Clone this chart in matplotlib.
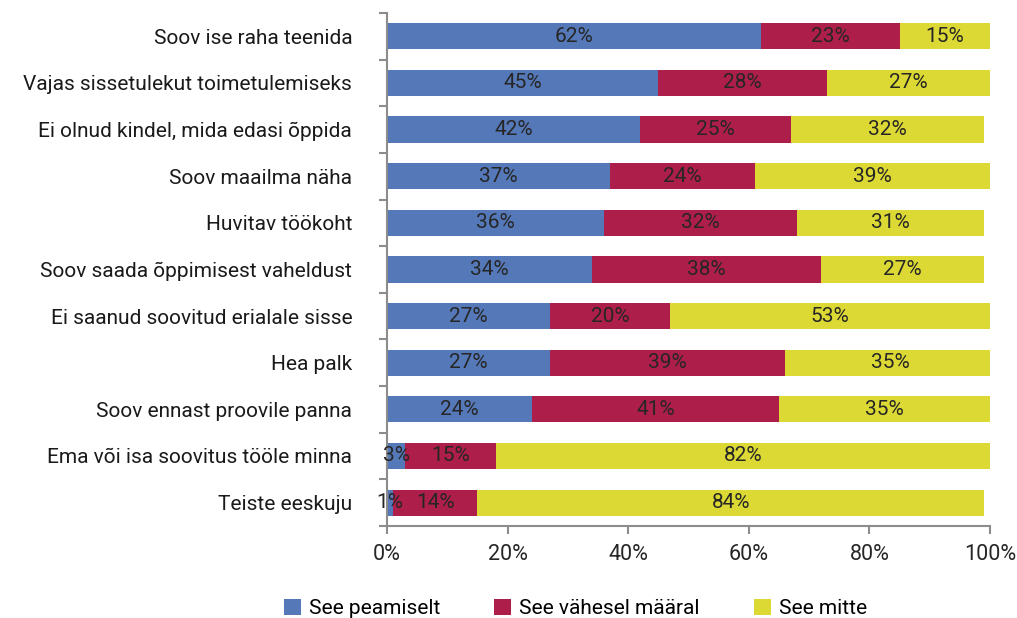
import matplotlib.pyplot as plt
import numpy as np

plt.rcParams['font.family'] = ['Roboto', 'DejaVu Sans']

reasons = ['Soov ise raha teenida', 'Vajas sissetulekut toimetulemiseks',
           'Ei olnud kindel, mida edasi õppida', 'Soov maailma näha',
           'Huvitav töökoht', 'Soov saada õppimisest vaheldust',
           'Ei saanud soovitud erialale sisse', 'Hea palk',
           'Soov ennast proovile panna', 'Ema või isa soovitus tööle minna',
           'Teiste eeskuju']
peamiselt = [62, 45, 42, 37, 36, 34, 27, 27, 24, 3, 1]
vahesel = [23, 28, 25, 24, 32, 38, 20, 39, 41, 15, 14]
mitte = [15, 27, 32, 39, 31, 27, 53, 35, 35, 82, 84]

series = [('See peamiselt', peamiselt, '#5578b8'),
          ('See vähesel määral', vahesel, '#ad1e4a'),
          ('See mitte', mitte, '#dcd834')]

fig = plt.figure(figsize=(10.17, 6.18), dpi=100)
ax = fig.add_axes([0.3805, 0.149, 0.593, 0.830])

y = np.arange(len(reasons))
left = np.zeros(len(reasons))
for name, vals, col in series:
    vals = np.array(vals, dtype=float)
    ax.barh(y, vals, left=left, height=0.56, color=col, label=name)
    for yi, l, v in zip(y, left, vals):
        ax.text(l + v / 2, yi, f'{int(v)}%', ha='center', va='center',
                fontsize=15, color='#262626')
    left += vals

ax.set_xlim(0, 100)
ax.set_ylim(len(reasons) - 0.5, -0.5)
ax.set_xticks(np.arange(0, 101, 20))
ax.set_xticklabels([f'{v}%' for v in range(0, 101, 20)], fontsize=15.5, color='#262626')

# category labels without ticks, tick marks between rows
ax.set_yticks(y)
ax.set_yticklabels(reasons, fontsize=15, color='#1a1a1a')
ax.tick_params(axis='y', which='major', length=0, pad=25)
ax.set_yticks(np.arange(-0.5, len(reasons)), minor=True)
ax.tick_params(axis='y', which='minor', length=6, width=1.5, color='#8c8c8c')
ax.tick_params(axis='x', length=6, width=1.5, color='#8c8c8c', pad=7)

for s in ['top', 'right']:
    ax.spines[s].set_visible(False)
for s in ['left', 'bottom']:
    ax.spines[s].set_color('#8c8c8c')
    ax.spines[s].set_linewidth(1.5)

fig.legend(loc='lower center', bbox_to_anchor=(0.566, -0.031), ncol=3, frameon=False,
           fontsize=15, handlelength=0.8, handleheight=0.8, handletextpad=0.4,
           columnspacing=2.6)

fig.savefig('out.png', dpi=100)
